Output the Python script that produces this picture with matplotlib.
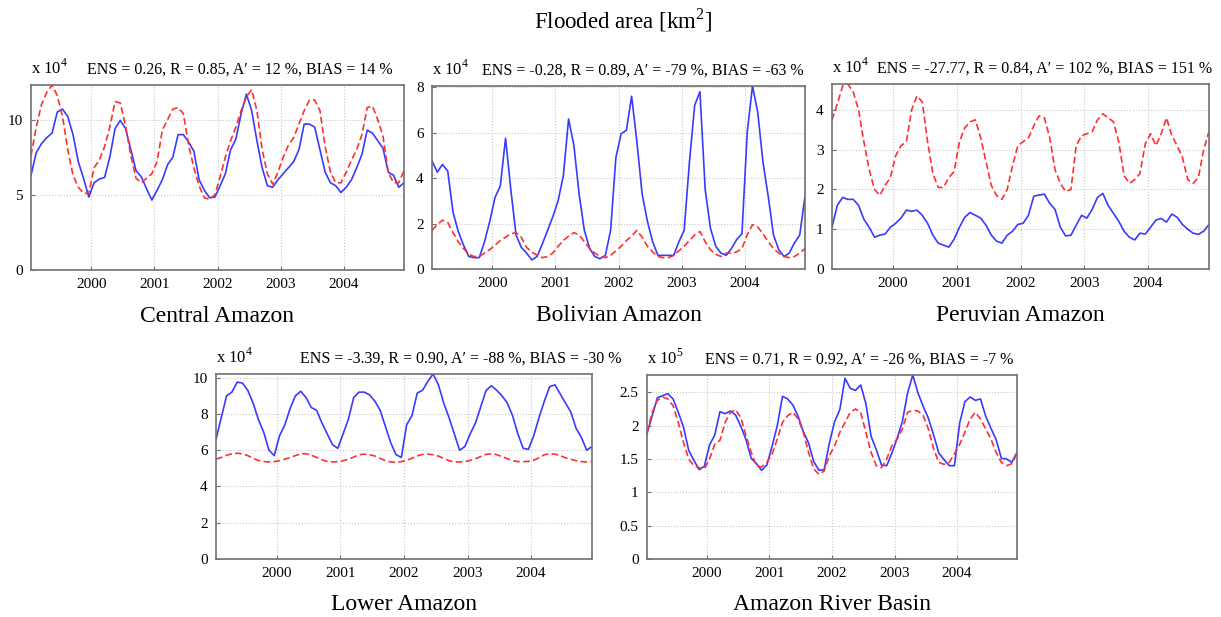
import numpy as np
import matplotlib
matplotlib.use("Agg")
import matplotlib.pyplot as plt
from matplotlib.ticker import FuncFormatter

plt.rcParams['font.family'] = ['Liberation Serif', 'DejaVu Serif']
plt.rcParams['mathtext.fontset'] = 'custom'
plt.rcParams['mathtext.rm'] = 'Liberation Serif'

# monthly values, Jan 1999 .. Dec 2004 (units of the panel's scale factor)
central_obs = [6.3, 7.8, 8.4, 8.8, 9.1, 10.5, 10.7, 10.2, 9.0, 7.2, 6.1, 4.85,
               5.8, 6.05, 6.15, 7.5, 9.4, 9.95, 9.4, 8.0, 6.6, 6.2, 5.4, 4.65,
               5.3, 6.0, 7.0, 7.5, 9.0, 9.0, 8.5, 7.9, 6.0, 5.3, 4.8, 4.85,
               5.6, 6.4, 8.0, 8.7, 10.4, 11.7, 10.6, 8.6, 6.8, 5.6, 5.5, 6.0,
               6.4, 6.8, 7.2, 8.0, 9.7, 9.7, 9.5, 8.0, 6.5, 5.8, 5.6, 5.15,
               5.5, 6.0, 6.8, 7.7, 9.3, 9.1, 8.6, 8.1, 6.5, 6.3, 5.5, 5.8]
central_mod = [7.6, 9.5, 11.0, 11.8, 12.3, 11.6, 10.2, 8.0, 6.3, 5.5, 5.1, 5.1,
               6.8, 7.3, 8.2, 9.5, 11.2, 11.1, 9.6, 7.6, 6.1, 5.8, 6.1, 6.4,
               7.2, 9.3, 10.0, 10.7, 10.8, 10.4, 8.3, 6.8, 5.6, 4.8, 4.7, 5.0,
               6.2, 7.5, 8.6, 9.5, 10.6, 11.5, 12.0, 10.6, 8.0, 6.4, 5.7, 6.5,
               7.5, 8.3, 8.8, 9.7, 10.6, 11.3, 11.3, 10.6, 8.2, 6.5, 5.8, 5.8,
               6.5, 7.3, 8.0, 9.0, 10.8, 10.9, 10.0, 8.9, 6.5, 5.8, 5.8, 6.6]

bolivian_obs = [4.76, 4.26, 4.6, 4.3, 2.5, 1.65, 1.05, 0.55, 0.5, 0.5, 1.2, 2.1,
                3.15, 3.65, 5.75, 3.5, 1.5, 0.95, 0.7, 0.4, 0.55, 1.1, 1.7, 2.3,
                3.0, 4.1, 6.6, 5.45, 3.3, 1.7, 0.9, 0.55, 0.45, 0.6, 1.7, 4.9,
                5.95, 6.1, 7.6, 5.6, 3.3, 2.1, 1.2, 0.6, 0.6, 0.6, 0.6, 1.2,
                1.7, 4.7, 7.2, 7.8, 3.5, 1.8, 1.0, 0.7, 0.6, 0.9, 1.3, 1.55,
                6.0, 8.05, 6.9, 4.7, 3.2, 1.5, 0.85, 0.55, 0.7, 1.15, 1.5, 3.2]
bolivian_mod = [1.7, 1.95, 2.15, 2.05, 1.6, 1.2, 0.9, 0.65, 0.55, 0.55, 0.7, 0.85,
                1.05, 1.25, 1.4, 1.55, 1.6, 1.4, 0.95, 0.75, 0.6, 0.5, 0.55, 0.7,
                1.0, 1.25, 1.45, 1.6, 1.5, 1.2, 0.9, 0.7, 0.55, 0.5, 0.6, 0.8,
                1.0, 1.25, 1.45, 1.7, 1.4, 1.0, 0.75, 0.55, 0.5, 0.5, 0.6, 0.8,
                1.0, 1.25, 1.5, 1.65, 1.2, 0.85, 0.65, 0.55, 0.7, 0.7, 0.75, 0.9,
                1.5, 1.95, 1.85, 1.55, 1.2, 0.9, 0.7, 0.55, 0.5, 0.55, 0.7, 0.9]

peruvian_obs = [1.05, 1.6, 1.8, 1.75, 1.75, 1.6, 1.25, 1.05, 0.8, 0.85, 0.88, 1.05,
                1.15, 1.28, 1.48, 1.45, 1.48, 1.35, 1.15, 0.85, 0.65, 0.6, 0.55, 0.75,
                1.05, 1.3, 1.42, 1.35, 1.28, 1.1, 0.85, 0.7, 0.65, 0.85, 0.95, 1.12,
                1.15, 1.35, 1.83, 1.86, 1.88, 1.65, 1.5, 1.05, 0.83, 0.85, 1.1, 1.35,
                1.28, 1.5, 1.8, 1.9, 1.6, 1.4, 1.2, 0.95, 0.8, 0.73, 0.9, 0.88,
                1.05, 1.23, 1.27, 1.18, 1.38, 1.3, 1.12, 1.0, 0.9, 0.87, 0.95, 1.12]
peruvian_mod = [3.75, 4.15, 4.6, 4.65, 4.45, 4.0, 3.2, 2.5, 2.0, 1.85, 2.1, 2.3,
                2.85, 3.1, 3.2, 4.0, 4.35, 4.2, 3.2, 2.4, 2.05, 2.05, 2.3, 2.45,
                3.2, 3.55, 3.7, 3.75, 3.3, 2.7, 2.1, 1.85, 1.75, 2.0, 2.6, 3.1,
                3.2, 3.3, 3.6, 3.85, 3.8, 3.3, 2.5, 2.15, 1.95, 2.0, 3.1, 3.35,
                3.4, 3.45, 3.75, 3.9, 3.8, 3.7, 3.2, 2.35, 2.15, 2.25, 2.4, 3.15,
                3.4, 3.1, 3.4, 3.8, 3.35, 3.1, 2.8, 2.25, 2.15, 2.3, 3.0, 3.45]

lower_obs = [6.6, 7.8, 9.0, 9.2, 9.75, 9.7, 9.3, 8.6, 7.7, 7.0, 6.0, 5.7,
             6.8, 7.4, 8.3, 9.0, 9.25, 8.9, 8.35, 8.2, 7.5, 6.9, 6.3, 6.1,
             6.9, 7.7, 8.9, 9.2, 9.2, 9.05, 8.7, 8.2, 7.3, 6.4, 5.75, 5.6,
             7.4, 7.9, 9.15, 9.3, 9.8, 10.2, 9.6, 8.6, 7.8, 6.9, 6.0, 6.2,
             6.9, 7.5, 8.4, 9.3, 9.55, 9.3, 9.0, 8.6, 7.9, 6.9, 6.1, 6.05,
             6.8, 7.8, 8.7, 9.5, 9.6, 9.1, 8.6, 8.1, 7.2, 6.7, 6.0, 6.2]
lower_mod = [5.5, 5.6, 5.72, 5.8, 5.83, 5.8, 5.7, 5.55, 5.43, 5.37, 5.35, 5.37,
             5.42, 5.5, 5.6, 5.7, 5.8, 5.8, 5.72, 5.6, 5.47, 5.38, 5.35, 5.37,
             5.42, 5.5, 5.62, 5.75, 5.78, 5.75, 5.68, 5.55, 5.42, 5.35, 5.33, 5.37,
             5.45, 5.55, 5.68, 5.77, 5.78, 5.75, 5.67, 5.55, 5.42, 5.35, 5.35, 5.37,
             5.43, 5.53, 5.65, 5.77, 5.8, 5.75, 5.65, 5.53, 5.42, 5.37, 5.37, 5.38,
             5.45, 5.58, 5.75, 5.8, 5.78, 5.7, 5.58, 5.5, 5.42, 5.37, 5.35, 5.38]

basin_obs = [1.88, 2.15, 2.42, 2.45, 2.48, 2.4, 2.2, 1.98, 1.63, 1.48, 1.34, 1.39,
             1.71, 1.86, 2.21, 2.18, 2.22, 2.16, 1.99, 1.79, 1.51, 1.43, 1.33, 1.41,
             1.69, 2.0, 2.44, 2.4, 2.31, 2.14, 1.91, 1.74, 1.46, 1.33, 1.34, 1.74,
             2.06, 2.24, 2.71, 2.56, 2.53, 2.61, 2.33, 1.84, 1.64, 1.41, 1.4, 1.59,
             1.81, 2.06, 2.49, 2.76, 2.49, 2.29, 2.11, 1.86, 1.59, 1.49, 1.4, 1.4,
             2.04, 2.36, 2.43, 2.38, 2.4, 2.14, 1.96, 1.79, 1.51, 1.5, 1.45, 1.6]
basin_mod = [1.9, 2.2, 2.38, 2.43, 2.4, 2.3, 2.05, 1.75, 1.5, 1.4, 1.37, 1.35,
             1.5, 1.72, 1.78, 2.05, 2.2, 2.24, 2.12, 1.85, 1.6, 1.4, 1.38, 1.45,
             1.57, 1.8, 2.05, 2.15, 2.2, 2.1, 1.9, 1.6, 1.35, 1.27, 1.32, 1.55,
             1.7, 1.9, 2.05, 2.2, 2.25, 2.2, 1.9, 1.6, 1.4, 1.37, 1.5, 1.7,
             1.8, 1.95, 2.2, 2.23, 2.22, 2.15, 1.95, 1.65, 1.45, 1.42, 1.45, 1.58,
             1.72, 1.9, 2.1, 2.2, 2.1, 1.95, 1.8, 1.6, 1.45, 1.4, 1.43, 1.58]

titles = ["Central Amazon", "Bolivian Amazon", "Peruvian Amazon",
          "Lower Amazon", "Amazon River Basin"]
stats = ["ENS = 0.26, R = 0.85, A\u2032 = 12 %, BIAS = 14 %",
         "ENS = -0.28, R = 0.89, A\u2032 = -79 %, BIAS = -63 %",
         "ENS = -27.77, R = 0.84, A\u2032 = 102 %, BIAS = 151 %",
         "ENS = -3.39, R = 0.90, A\u2032 = -88 %, BIAS = -30 %",
         "ENS = 0.71, R = 0.92, A\u2032 = -26 %, BIAS = -7 %"]
exponents = [4, 4, 4, 4, 5]
yticks = [[0, 5, 10], [0, 2, 4, 6, 8], [0, 1, 2, 3, 4],
          [0, 2, 4, 6, 8, 10], [0, 0.5, 1, 1.5, 2, 2.5]]
obs = [central_obs, bolivian_obs, peruvian_obs, lower_obs, basin_obs]
mod = [central_mod, bolivian_mod, peruvian_mod, lower_mod, basin_mod]
years = [2000, 2001, 2002, 2003, 2004]

# axes boxes in pixels: left, right, top, bottom; x where the stats text starts
boxes = [(31, 404, 85, 270), (432, 805, 86, 269), (832, 1209, 84, 269),
         (216, 592, 374, 559), (647, 1017, 375, 559)]
stat_x = [87, 482, 877, 300, 705]

W, H = 1221, 617
fig = plt.figure(figsize=(W / 100, H / 100), dpi=100)
fig.text(623 / W, 1 - 20 / H, "Flooded area [km$^{2}$]", ha="center", va="center", fontsize=16.5)

t = 1999 + (np.arange(72) + 0.5) / 12
frame = "#707070"

for k in range(5):
    l, r, tp, b = boxes[k]
    ax = fig.add_axes([l / W, 1 - b / H, (r - l) / W, (b - tp) / H])
    scale = 10.0 ** exponents[k]
    o = np.array(obs[k]) * scale
    m = np.array(mod[k]) * scale
    ax.plot(t, o, color="#3a3aff", lw=1.2)
    ax.plot(t, m, color="#ff3030", lw=1.2, ls=(0, (4, 2)))
    ax.set_xlim(t[0], t[-1])
    ax.set_ylim(0, max(o.max(), m.max()))
    ax.set_xticks(years)
    ax.set_yticks(np.array(yticks[k]) * scale)
    ax.yaxis.set_major_formatter(FuncFormatter(lambda v, p, s=scale: "%g" % (v / s)))
    ax.grid(True, color="#c8c8c8", ls=":", lw=0.8)
    ax.tick_params(direction="in", length=3, labelsize=11, color=frame, pad=6)
    for sp in ax.spines.values():
        sp.set_color(frame)
        sp.set_linewidth(1.2)
    ax.text(0.0, 1.04, "x 10$^{%d}$" % exponents[k], transform=ax.transAxes,
            fontsize=12, ha="left", va="bottom")
    ax.text((stat_x[k] - l) / (r - l), 1.04, stats[k], transform=ax.transAxes,
            fontsize=11.5, ha="left", va="bottom")
    ax.text(0.5, -46 / (b - tp), titles[k], transform=ax.transAxes,
            fontsize=17, ha="center", va="center")

fig.savefig("out.png", dpi=100)
